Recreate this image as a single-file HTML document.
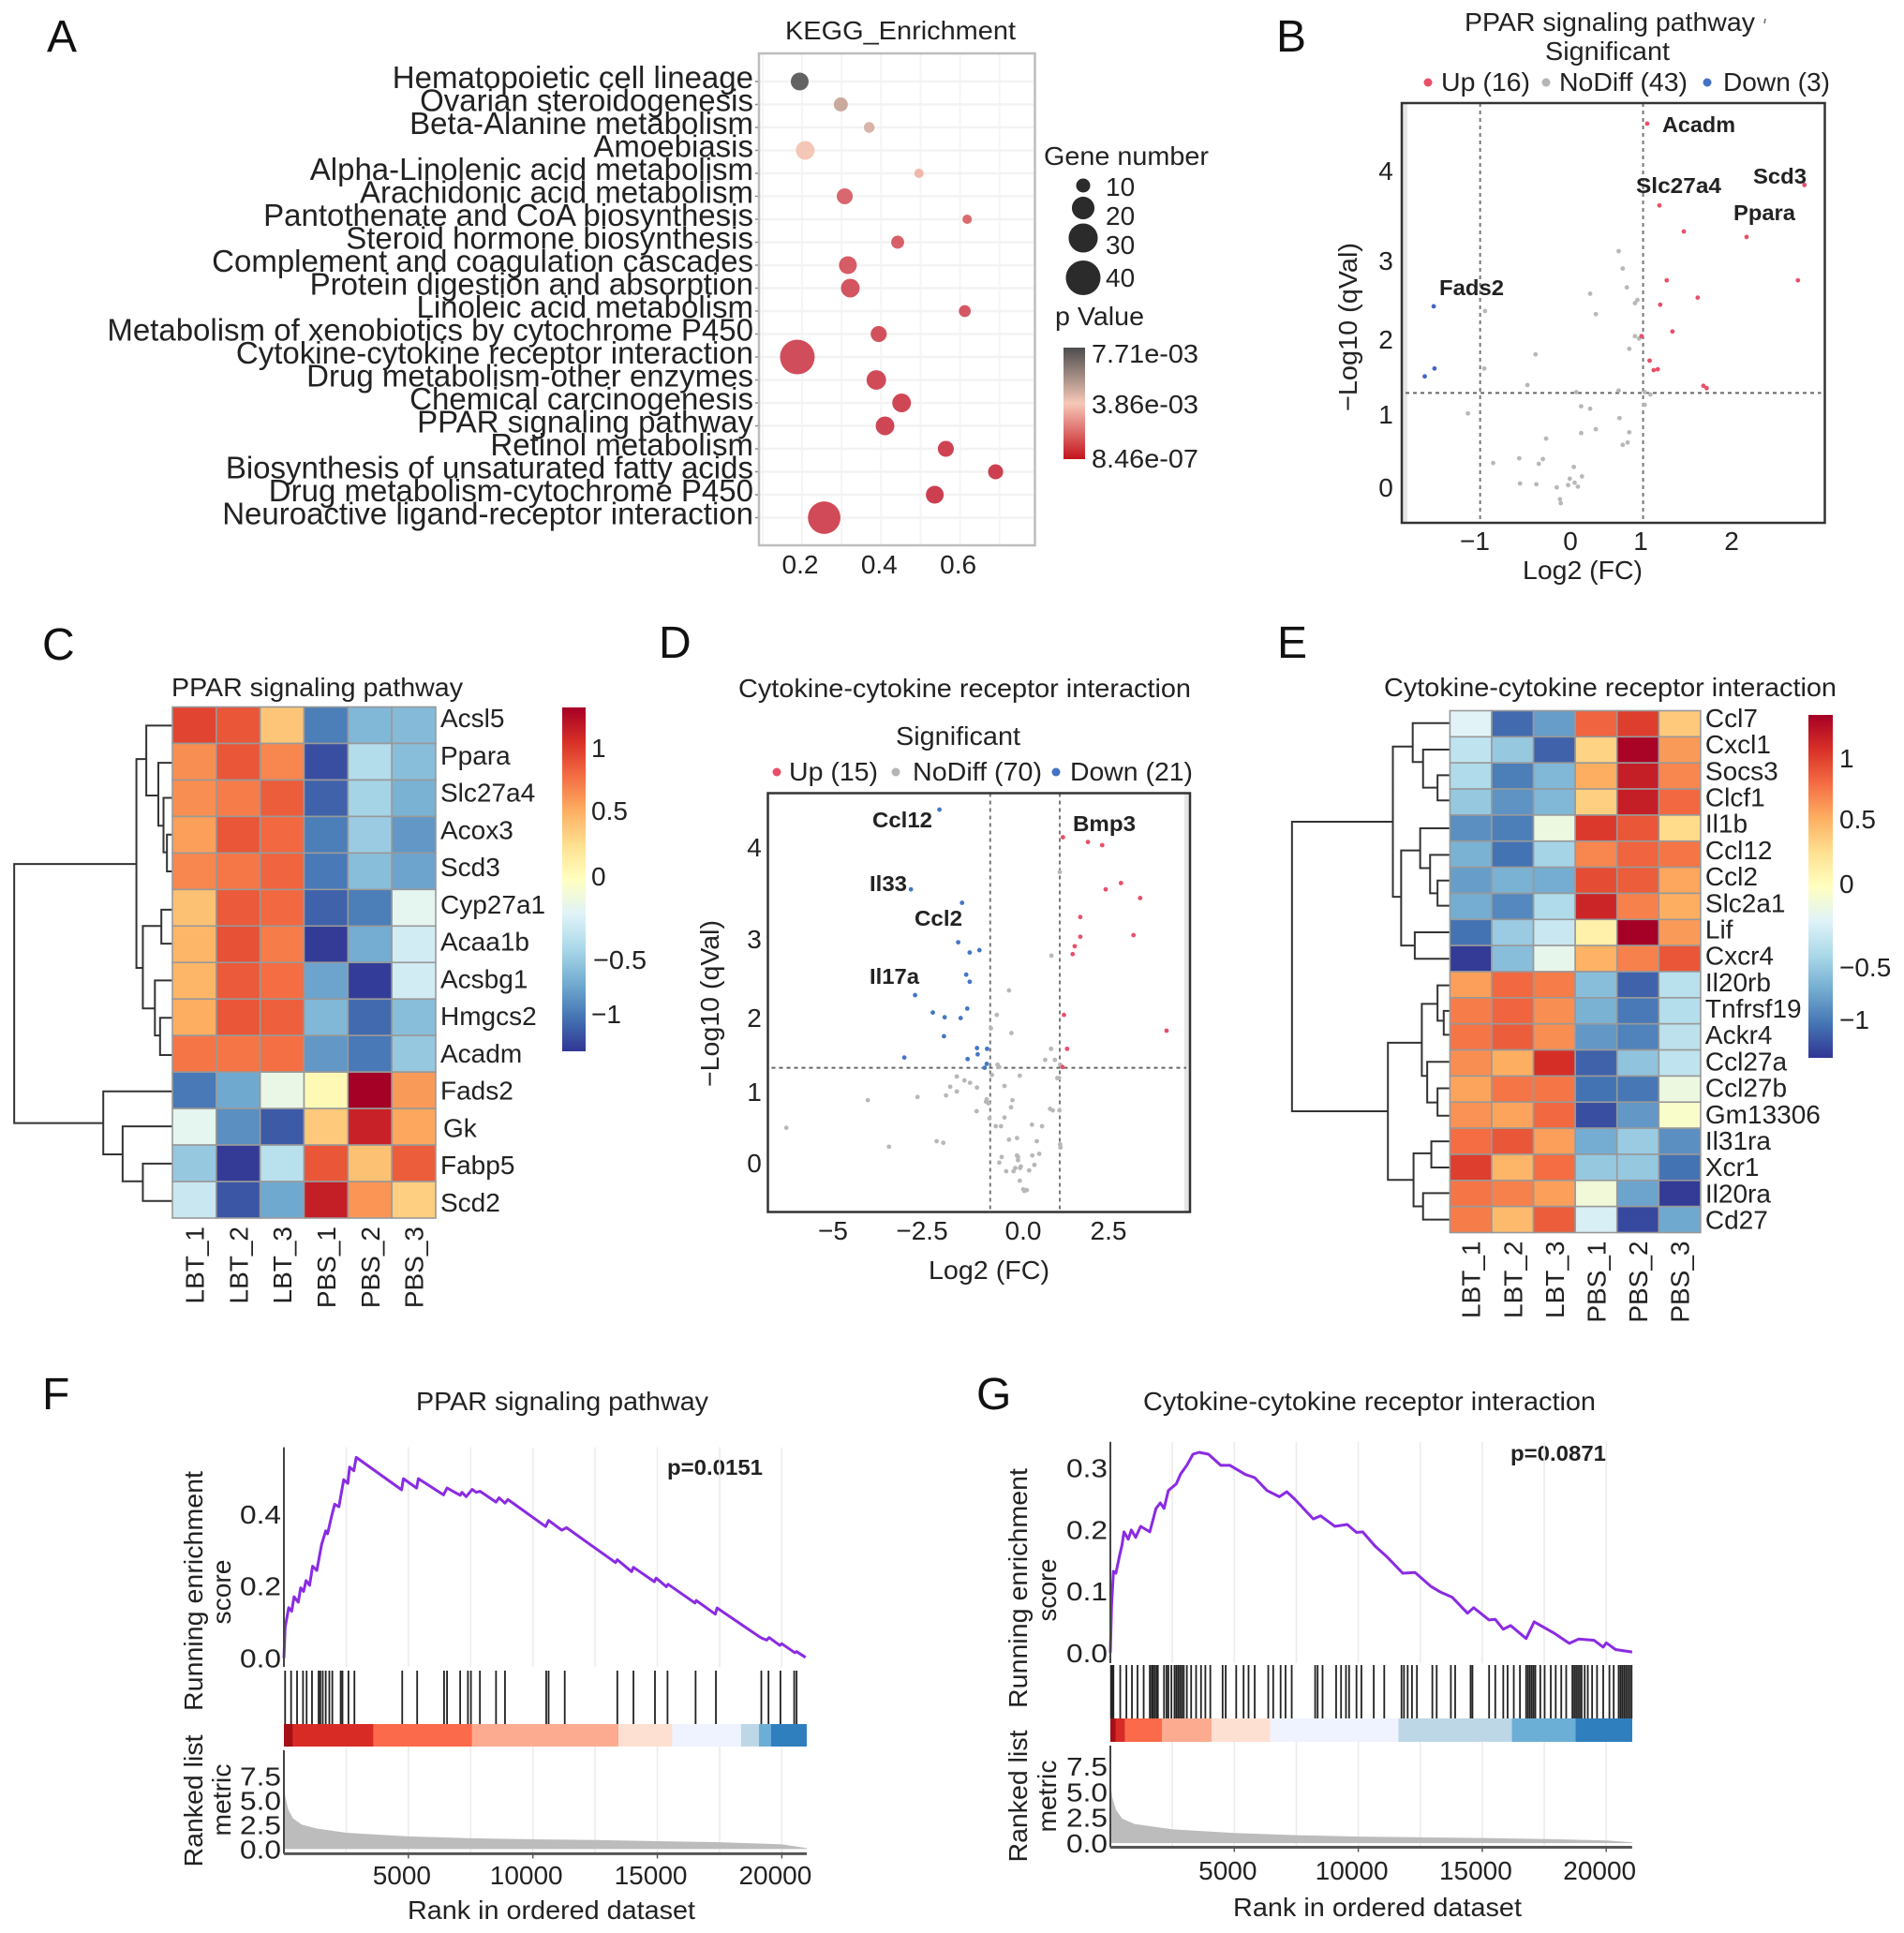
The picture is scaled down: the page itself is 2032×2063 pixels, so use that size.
<!DOCTYPE html>
<html lang="en">
<head>
<meta charset="utf-8">
<title>Pathway enrichment figure</title>
<style>
html,body{margin:0;padding:0;background:#fff;}
svg{display:block;font-family:"Liberation Sans",sans-serif;fill:#222;}
.l{font-size:28px;}
.b{font-size:23.5px;font-weight:bold;}
.p{font-size:48px;fill:#111;}
</style>
</head>
<body>
<svg id="figure" width="2032" height="2063" viewBox="0 0 2032 2063">
<defs>
<linearGradient id="heatGrad" x1="0" y1="0" x2="0" y2="1">
<stop offset="0" stop-color="#A50026"/><stop offset=".1" stop-color="#D73027"/><stop offset=".2" stop-color="#F46D43"/><stop offset=".3" stop-color="#FDAE61"/><stop offset=".4" stop-color="#FEE090"/><stop offset=".5" stop-color="#FFFFBF"/><stop offset=".6" stop-color="#E0F3F8"/><stop offset=".7" stop-color="#ABD9E9"/><stop offset=".8" stop-color="#74ADD1"/><stop offset=".9" stop-color="#4575B4"/><stop offset="1" stop-color="#313695"/>
</linearGradient>
<linearGradient id="pGrad" x1="0" y1="0" x2="0" y2="1">
<stop offset="0" stop-color="#4d4d4d"/><stop offset=".5" stop-color="#f6c8b8"/><stop offset="1" stop-color="#c4131c"/>
</linearGradient>
</defs>

<rect x="0" y="0" width="2032" height="2063" fill="#fff"/>

<text class="p" x="50" y="55">A</text>
<text class="p" x="1362" y="55">B</text>
<text class="p" x="45" y="704">C</text>
<text class="p" x="703" y="702">D</text>
<text class="p" x="1363" y="702">E</text>
<text class="p" x="45" y="1504">F</text>
<text class="p" x="1042" y="1504">G</text>

<!-- Panel A -->
<g id="panelA">
<text class="l" x="838" y="42" textLength="246" lengthAdjust="spacingAndGlyphs">KEGG_Enrichment</text>
<text class="l" x="1114" y="176" textLength="176" lengthAdjust="spacingAndGlyphs">Gene number</text>
<text class="l" x="1126" y="347" textLength="95" lengthAdjust="spacingAndGlyphs">p Value</text>
<rect x="1135" y="371" width="23" height="119" fill="url(#pGrad)"/>
<text class="l" x="1165" y="387" textLength="114" lengthAdjust="spacingAndGlyphs">7.71e-03</text>
<text class="l" x="1165" y="441" textLength="114" lengthAdjust="spacingAndGlyphs">3.86e-03</text>
<text class="l" x="1165" y="499" textLength="114" lengthAdjust="spacingAndGlyphs">8.46e-07</text>
</g>

<!-- Panel B -->
<g id="panelB">
<text class="l" x="1563" y="33" textLength="310" lengthAdjust="spacingAndGlyphs">PPAR signaling pathway</text>
<line x1="1884" y1="20" x2="1883" y2="25" stroke="#666" stroke-width="1.5"/>
<text class="l" x="1649" y="64" textLength="133" lengthAdjust="spacingAndGlyphs">Significant</text>
<circle cx="1524" cy="88" r="4.5" fill="#e8506a"/>
<text class="l" x="1538" y="97" textLength="95" lengthAdjust="spacingAndGlyphs">Up (16)</text>
<circle cx="1650" cy="88" r="4.5" fill="#b5b5b5"/>
<text class="l" x="1664" y="97" textLength="137" lengthAdjust="spacingAndGlyphs">NoDiff (43)</text>
<circle cx="1822" cy="88" r="4.5" fill="#4472c4"/>
<text class="l" x="1839" y="97" textLength="114" lengthAdjust="spacingAndGlyphs">Down (3)</text>
<rect x="1496" y="110" width="6" height="448" fill="#e6e6e6"/>
<g id="bMarks"></g>
<rect x="1496" y="110" width="451.5" height="448" fill="none" stroke="#333" stroke-width="2.5"/>
<text class="b" x="1774" y="141" textLength="78" lengthAdjust="spacingAndGlyphs">Acadm</text>
<text class="b" x="1746" y="206" textLength="91" lengthAdjust="spacingAndGlyphs">Slc27a4</text>
<text class="b" x="1871" y="196" textLength="57" lengthAdjust="spacingAndGlyphs">Scd3</text>
<text class="b" x="1850" y="235" textLength="66" lengthAdjust="spacingAndGlyphs">Ppara</text>
<text class="b" x="1536" y="315" textLength="69" lengthAdjust="spacingAndGlyphs">Fads2</text>
<text class="l" text-anchor="middle" x="1479" y="192">4</text>
<text class="l" text-anchor="middle" x="1479" y="288">3</text>
<text class="l" text-anchor="middle" x="1479" y="372">2</text>
<text class="l" text-anchor="middle" x="1479" y="452">1</text>
<text class="l" text-anchor="middle" x="1479" y="530">0</text>
<text class="l" text-anchor="middle" x="1574" y="587">−1</text>
<text class="l" text-anchor="middle" x="1676" y="587">0</text>
<text class="l" text-anchor="middle" x="1751" y="587">1</text>
<text class="l" text-anchor="middle" x="1848" y="587">2</text>
<text class="l" x="1625" y="618" textLength="128" lengthAdjust="spacingAndGlyphs">Log2 (FC)</text>
<text class="l" text-anchor="middle" transform="translate(1448,349) rotate(-90)" textLength="180" lengthAdjust="spacingAndGlyphs">−Log10 (qVal)</text>
</g>

<!-- Panel C -->
<g id="panelC">
<text class="l" x="183" y="743" textLength="311" lengthAdjust="spacingAndGlyphs">PPAR signaling pathway</text>
<path transform="translate(0,650) scale(.4592,.4974)" fill="none" stroke="#333" stroke-width="2" vector-effect="non-scaling-stroke" d="M317 547H33V1103H240M332 770H317V322H340M400 250H340V400H368M400 330H368V465H380M400 405H380V522H388M400 484H388V563H400M375 680H332V857H360M400 645H375V718H400M400 797H360V915H372M400 877H372V957H400M400 1035H240V1170H285M400 1110H285V1228H332M400 1190H332V1270H400"/>
<rect x="600" y="755" width="25" height="367" fill="url(#heatGrad)"/>
<text class="l" x="631" y="808">1</text>
<text class="l" x="631" y="875">0.5</text>
<text class="l" x="631" y="945">0</text>
<text class="l" x="633" y="1034" textLength="57" lengthAdjust="spacingAndGlyphs">−0.5</text>
<text class="l" x="631" y="1092">−1</text>
</g>

<!-- Panel D -->
<g id="panelD">
<text class="l" x="788" y="744" textLength="483" lengthAdjust="spacingAndGlyphs">Cytokine-cytokine receptor interaction</text>
<text class="l" x="956" y="795" textLength="133" lengthAdjust="spacingAndGlyphs">Significant</text>
<circle cx="829" cy="824" r="4.5" fill="#e8506a"/>
<text class="l" x="842" y="833" textLength="95" lengthAdjust="spacingAndGlyphs">Up (15)</text>
<circle cx="956" cy="824" r="4.5" fill="#b5b5b5"/>
<text class="l" x="974" y="833" textLength="138" lengthAdjust="spacingAndGlyphs">NoDiff (70)</text>
<circle cx="1127" cy="824" r="4.5" fill="#4472c4"/>
<text class="l" x="1142" y="833" textLength="131" lengthAdjust="spacingAndGlyphs">Down (21)</text>
<rect x="1264" y="846" width="6" height="448" fill="#e6e6e6"/>
<g id="dMarks"></g>
<rect x="819.5" y="846.5" width="450.5" height="447" fill="none" stroke="#333" stroke-width="2.5"/>
<text class="b" x="931" y="883" textLength="64" lengthAdjust="spacingAndGlyphs">Ccl12</text>
<text class="b" x="928" y="951" textLength="40" lengthAdjust="spacingAndGlyphs">Il33</text>
<text class="b" x="976" y="988" textLength="51" lengthAdjust="spacingAndGlyphs">Ccl2</text>
<text class="b" x="928" y="1050" textLength="53" lengthAdjust="spacingAndGlyphs">Il17a</text>
<text class="b" x="1145" y="887" textLength="67" lengthAdjust="spacingAndGlyphs">Bmp3</text>
<text class="l" text-anchor="middle" x="805" y="914">4</text>
<text class="l" text-anchor="middle" x="805" y="1012">3</text>
<text class="l" text-anchor="middle" x="805" y="1096">2</text>
<text class="l" text-anchor="middle" x="805" y="1175">1</text>
<text class="l" text-anchor="middle" x="805" y="1251">0</text>
<text class="l" text-anchor="middle" x="889" y="1323">−5</text>
<text class="l" text-anchor="middle" x="984" y="1323">−2.5</text>
<text class="l" text-anchor="middle" x="1092" y="1323">0.0</text>
<text class="l" text-anchor="middle" x="1183" y="1323">2.5</text>
<text class="l" x="991" y="1365" textLength="129" lengthAdjust="spacingAndGlyphs">Log2 (FC)</text>
<text class="l" text-anchor="middle" transform="translate(767,1071) rotate(-90)" textLength="178" lengthAdjust="spacingAndGlyphs">−Log10 (qVal)</text>
</g>

<!-- Panel E -->
<g id="panelE">
<text class="l" x="1477" y="743" textLength="483" lengthAdjust="spacingAndGlyphs">Cytokine-cytokine receptor interaction</text>
<path transform="translate(1340,700) scale(.4413,.4719)" fill="none" stroke="#333" stroke-width="2" vector-effect="non-scaling-stroke" d="M332 375H88V1030H320M380 205H332V545H352M470 152H380V240H405M470 212H405V298H440M470 270H440V327H470M398 440H352V655H385M470 390H398V480H422M470 450H422V537H440M470 508H440V565H470M470 625H385V685H470M402 875H320V1185H382M440 787H402V950H415M470 745H440V825H455M470 803H455V857H470M470 918H415V1010H440M470 978H440V1040H470M425 1125H382V1245H405M470 1098H425V1157H470M470 1215H405V1275H470"/>
<rect x="1930" y="763" width="26" height="366" fill="url(#heatGrad)"/>
<text class="l" x="1963" y="819">1</text>
<text class="l" x="1963" y="884">0.5</text>
<text class="l" x="1963" y="953">0</text>
<text class="l" x="1963" y="1042">−0.5</text>
<text class="l" x="1963" y="1098">−1</text>
</g>

<!-- Panel F -->
<g id="panelF">
<text class="l" x="444" y="1505" textLength="312" lengthAdjust="spacingAndGlyphs">PPAR signaling pathway</text>
<text class="b" x="712" y="1574" textLength="102" lengthAdjust="spacingAndGlyphs">p=0.0151</text>
<text class="l" text-anchor="middle" transform="translate(216,1698) rotate(-90)" textLength="256" lengthAdjust="spacingAndGlyphs">Running enrichment</text>
<text class="l" text-anchor="middle" transform="translate(246,1699) rotate(-90)" textLength="69" lengthAdjust="spacingAndGlyphs">score</text>
<text class="l" text-anchor="middle" transform="translate(216,1922) rotate(-90)" textLength="141" lengthAdjust="spacingAndGlyphs">Ranked list</text>
<text class="l" text-anchor="middle" transform="translate(246,1921) rotate(-90)" textLength="77" lengthAdjust="spacingAndGlyphs">metric</text>
<text class="l" x="435" y="2048" textLength="307" lengthAdjust="spacingAndGlyphs">Rank in ordered dataset</text>
</g>

<!-- Panel G -->
<g id="panelG">
<text class="l" x="1220" y="1505" textLength="483" lengthAdjust="spacingAndGlyphs">Cytokine-cytokine receptor interaction</text>
<text class="b" x="1612" y="1559" textLength="102" lengthAdjust="spacingAndGlyphs">p=0.0871</text>
<text class="l" text-anchor="middle" transform="translate(1096,1695) rotate(-90)" textLength="256" lengthAdjust="spacingAndGlyphs">Running enrichment</text>
<text class="l" text-anchor="middle" transform="translate(1127,1697) rotate(-90)" textLength="67" lengthAdjust="spacingAndGlyphs">score</text>
<text class="l" text-anchor="middle" transform="translate(1096,1917) rotate(-90)" textLength="141" lengthAdjust="spacingAndGlyphs">Ranked list</text>
<text class="l" text-anchor="middle" transform="translate(1127,1917) rotate(-90)" textLength="77" lengthAdjust="spacingAndGlyphs">metric</text>
<text class="l" x="1316" y="2045" textLength="308" lengthAdjust="spacingAndGlyphs">Rank in ordered dataset</text>
</g>
</svg>

<script>
/* ---------- Panel A data ---------- */
const keggTerms = ["Hematopoietic cell lineage","Ovarian steroidogenesis","Beta-Alanine metabolism","Amoebiasis","Alpha-Linolenic acid metabolism","Arachidonic acid metabolism","Pantothenate and CoA biosynthesis","Steroid hormone biosynthesis","Complement and coagulation cascades","Protein digestion and absorption","Linoleic acid metabolism","Metabolism of xenobiotics by cytochrome P450","Cytokine-cytokine receptor interaction","Drug metabolism-other enzymes","Chemical carcinogenesis","PPAR signaling pathway","Retinol metabolism","Biosynthesis of unsaturated fatty acids","Drug metabolism-cytochrome P450","Neuroactive ligand-receptor interaction"];
const keggRatio = [.194,.298,.37,.208,.496,.308,.618,.442,.316,.322,.612,.394,.188,.388,.452,.41,.564,.69,.536,.256];
const keggGenes = [14,10,7,15,6,12,6,9,14,15,8,12,40,16,15,15,12,11,14,36];
const keggP = [7.7e-3,5.0e-3,4.6e-3,3.9e-3,3.4e-3,1.2e-3,1.3e-3,1e-3,9e-4,7e-4,8e-4,6e-4,5e-4,4e-4,3e-4,3e-4,2e-4,1e-4,1e-4,4e-4];
const keggXTicks = [0.2,0.4,0.6];
const geneLegend = [10,20,30,40];

/* ---------- Panel B data ---------- */
const bUpX = [1.05,2.98,1.20,1.50,2.27,2.90,1.29,1.67,1.21,1.36,0.98,1.08,1.13,1.18,1.74,1.78];
const bUpY = [4.62,3.84,3.58,3.25,3.18,2.63,2.63,2.41,2.32,1.98,1.92,1.61,1.49,1.50,1.29,1.26];
const bDownX = [-1.57,-1.56,-1.68];
const bDownY = [2.30,1.51,1.41];
const bNoX = [.70,.75,.80,.35,.42,.90,.93,.90,.95,.83,-.94,-.32,-.95,-.42,.18,.70,1.02,1.09,-1.15,.24,.35,1.02,.71,.24,.42,.83,.81,.75,-.19,-.84,-.52,-.28,-.23,.15,.25,.10,-.51,-.31,-.06,.08,.16,.20,-.02,-.01];
const bNoY = [3.00,2.78,2.54,2.46,2.20,2.34,2.38,1.92,1.89,1.76,2.24,1.69,1.51,1.30,1.21,1.23,1.21,1.18,.94,1.03,1.00,1.05,.88,.69,.74,.70,.57,.54,.62,.31,.37,.30,.36,.26,.14,.11,.05,.04,0,.03,.06,.01,-.15,-.20];

/* ---------- Panel C data ---------- */
const cRows = ["Acsl5","Ppara","Slc27a4","Acox3","Scd3","Cyp27a1","Acaa1b","Acsbg1","Hmgcs2","Acadm","Fads2","Gk","Fabp5","Scd2"];
const sampleNames = ["LBT_1","LBT_2","LBT_3","PBS_1","PBS_2","PBS_3"];
const cValues = [
[.95,.88,.40,-1.0,-.72,-.70],
[.65,.88,.68,-1.2,-.48,-.68],
[.65,.72,.85,-1.12,-.55,-.75],
[.58,.88,.80,-1.0,-.6,-.88],
[.68,.74,.82,-1.02,-.68,-.82],
[.42,.86,.80,-1.12,-1.0,-.22],
[.48,.90,.72,-1.28,-.78,-.33],
[.48,.86,.78,-.82,-1.27,-.33],
[.52,.88,.84,-.72,-1.08,-.68],
[.75,.75,.77,-.88,-1.02,-.62],
[-1.02,-.8,-.18,.05,1.3,.6],
[-.22,-.92,-1.15,.38,1.12,.55],
[-.62,-1.28,-.45,.88,.42,.85],
[-.38,-1.17,-.8,1.14,.62,.35]];

/* ---------- Panel D data ---------- */
const dUpX = [1.09,1.81,2.22,2.76,2.32,3.31,1.59,1.59,3.12,1.43,1.37,1.12,4.07,1.21,1.08];
const dUpY = [4.14,4.08,4.04,3.56,3.48,3.37,3.13,2.88,2.90,2.76,2.66,1.89,1.69,1.46,1.23];
const dDownX = [-2.46,-3.28,-1.81,-1.92,-1.59,-1.31,-1.69,-1.59,-3.16,-1.66,-2.65,-2.31,-1.85,-2.33,-3.47,-1.38,-1.09,-1.36,-1.65,-1.10,-1.16];
const dDownY = [4.49,3.48,3.31,2.81,2.68,2.71,2.40,2.31,2.14,1.97,1.92,1.86,1.85,1.62,1.35,1.47,1.46,1.39,1.33,1.27,1.22];
const dNoX = [1.00,.76,-.46,-.81,-.98,-.39,.75,.58,.86,1.01,-.79,-.74,-1.96,-1.74,-1.58,-1.38,-.95,-.15,.93,.98,-2.15,-1.96,-2.27,-3.09,-4.52,-.59,-.36,-1.10,-1.05,-1.12,-.40,-1.39,.72,.80,.99,-.59,-1.02,-.84,-.69,.20,.49,-6.86,-3.91,-2.54,-2.35,-.46,-.23,.34,1.01,1.02,-.23,-.67,-.74,.21,.41,.27,.12,-.20,-.12,-.54,-.33,-.28,-.15,-.05,.05,-.02,-.14,-.20];
const dNoY = [3.70,2.64,2.20,1.89,1.72,1.66,1.46,1.32,1.32,1.26,1.26,1.23,1.11,1.06,1.03,.97,1.13,1.12,1.09,1.09,.98,.92,.87,.85,.81,.99,.81,.82,.77,.79,.72,.67,.70,.68,.68,.59,.58,.48,.48,.50,.48,.46,.22,.29,.27,.31,.33,.29,.25,.21,.11,.09,.02,.11,.13,-.01,-.08,.05,-.03,-.09,-.09,-.05,-.21,-.32,-.33,-.34,-.05,.09];

/* ---------- Panel E data ---------- */
const eRows = ["Ccl7","Cxcl1","Socs3","Clcf1","Il1b","Ccl12","Ccl2","Slc2a1","Lif","Cxcr4","Il20rb","Tnfrsf19","Ackr4","Ccl27a","Ccl27b","Gm13306","Il31ra","Xcr1","Il20ra","Cd27"];
const eValues = [
[-.25,-1.08,-.85,.82,.98,.38],
[-.42,-.62,-1.12,.33,1.28,.6],
[-.5,-1.0,-.72,.52,1.14,.68],
[-.62,-.9,-.72,.35,1.14,.8],
[-.92,-1.0,-.15,1.0,.88,.28],
[-.75,-1.05,-.55,.68,.82,.75],
[-.85,-.75,-.78,.92,.85,.55],
[-.78,-.95,-.5,1.1,.7,.52],
[-1.05,-.6,-.38,.12,1.3,.6],
[-1.28,-.68,-.2,.5,.7,.88],
[.58,.8,.72,-.68,-1.12,-.45],
[.72,.82,.65,-.75,-1.02,-.47],
[.75,.85,.65,-.88,-.98,-.43],
[.65,.52,1.05,-1.12,-.65,-.42],
[.56,.75,.75,-1.05,-1.03,-.15],
[.63,.56,.8,-1.2,-.88,-.05],
[.78,.88,.58,-.78,-.6,-.92],
[.98,.48,.78,-.62,-.62,-1.05],
[.75,.7,.58,-.12,-.82,-1.28],
[.72,.46,.85,-.3,-1.22,-.8]];

/* ---------- Panel F data ---------- */
const fRanks = [0,48,192,312,408,576,672,792,888,1032,1152,1320,1512,1680,1752,1920,2040,2208,2400,2568,2640,2808,2904,4728,4800,5328,5400,6408,6552,7080,7152,7320,7560,7728,7872,8520,8640,8880,9000,10512,10632,11160,11352,13320,13392,13968,14040,14880,14952,15360,15432,16512,16560,17328,17400,19080,19200,19392,19488,19920,19992,20520,20592,20952];
const fScores = [0,.085,.14,.13,.17,.155,.195,.185,.215,.202,.255,.243,.315,.353,.345,.395,.427,.42,.495,.485,.53,.52,.557,.467,.498,.472,.498,.453,.472,.452,.46,.448,.468,.46,.463,.433,.445,.43,.44,.365,.382,.355,.362,.265,.273,.24,.252,.212,.222,.198,.205,.153,.16,.122,.139,.06,.055,.05,.057,.035,.04,.015,.018,.002];
const fHits = [48,288,528,768,912,1128,1392,1464,1560,1680,1824,1944,2280,2352,2592,2832,4752,5352,6432,6552,7080,7392,7512,7872,8520,8880,10536,10632,11280,13392,14040,14904,15408,16536,17352,19176,19464,19944,20496,20592];
const fBinEnds = [360,3600,7560,13440,15600,18360,19080,19560,21000];
const fBinLevels = [8,7,6,5,4,3,2,1,0];
const fMetricRanks = [0,72,168,360,720,1320,2500,5000,7500,10000,12500,15000,17500,20000,21000];
const fMetricValues = [6.1,5.2,4.1,3.15,2.5,2.1,1.67,1.3,1.11,1.0,.93,.81,.7,.48,.1];
const fEsTicks = [0,0.2,0.4];

/* ---------- Panel G data ---------- */
const gRanks = [0,50,124,224,373,473,547,721,846,1020,1219,1592,1841,2015,2164,2338,2662,2836,3085,3334,3582,3956,4453,4826,5199,5448,5821,6319,6816,7115,7439,8185,8483,9056,9553,9927,10176,10673,11170,11792,12290,12912,13285,13783,14405,14654,15276,15525,15848,16147,16769,17092,17888,18510,18884,19506,19879,20004,20377,21048];
const gScores = [0,.076,.132,.129,.158,.175,.196,.184,.199,.187,.205,.196,.234,.243,.234,.263,.274,.29,.304,.322,.325,.322,.304,.304,.295,.289,.284,.263,.253,.261,.249,.217,.222,.205,.208,.195,.196,.173,.155,.129,.13,.108,.099,.09,.064,.073,.053,.054,.038,.044,.023,.05,.032,.015,.022,.02,.009,.016,.005,.001];
const gHits = [25,75,124,398,647,871,1095,1344,1592,1667,1717,1791,1866,1916,2165,2264,2339,2463,2587,2662,2737,2811,2886,2961,3085,3259,3458,3657,3832,4031,4528,4652,5076,5374,5573,5822,6369,6568,6867,7066,7315,8260,8360,8559,9106,9305,9504,9629,9927,10126,10624,11047,11743,11843,11992,12166,12365,12987,13162,13734,13908,14530,14605,15276,15525,15848,16023,16272,16520,16769,16844,16918,16993,17068,17142,17341,17516,17764,17963,18187,18386,18635,18710,18784,18859,18934,19008,19132,19257,19431,19630,19879,20128,20302,20501,20576,20650,20725,20799,20874,20949,21023];
const gBinEnds = [224,597,2090,4080,6444,11619,16197,18760,21050];
const gBinLevels = [8,7,6,5,4,3,2,1,0];
const gMetricRanks = [0,75,224,473,970,2513,5000,7514,10027,12539,15027,17540,20030,21050];
const gMetricValues = [5.9,4.5,3.27,2.39,1.87,1.34,.99,.77,.63,.56,.49,.39,.25,.07];
const gEsTicks = [0,0.1,0.2,0.3];

const metricTicks = [0,2.5,5,7.5];
const rankTicks = [5000,10000,15000,20000];

/* ---------- helpers ---------- */
const svgNS = document.getElementById('figure').namespaceURI;
function add(parent, tag, attrs, text) {
  const el = document.createElementNS(svgNS, tag);
  for (const k in attrs) el.setAttribute(k, attrs[k]);
  if (text !== undefined) el.textContent = text;
  parent.appendChild(el);
  return el;
}
function hex2rgb(h) { return [1,3,5].map(i => parseInt(h.substr(i,2),16)); }
function ramp(stops, t) {
  t = Math.max(0, Math.min(1, t)) * (stops.length - 1);
  const i = Math.min(Math.floor(t), stops.length - 2), f = t - i;
  const a = hex2rgb(stops[i]), b = hex2rgb(stops[i+1]);
  return 'rgb(' + a.map((v,k) => Math.round(v + (b[k]-v)*f)).join(',') + ')';
}
const heatStops = ['#313695','#4575B4','#74ADD1','#ABD9E9','#E0F3F8','#FFFFBF','#FEE090','#FDAE61','#F46D43','#D73027','#A50026'];
const heatColor = z => ramp(heatStops, (z + 1.3) / 2.6);

/* ---------- Panel A drawing ---------- */
(function () {
  const g = document.getElementById('panelA');
  const xA = v => 856 + (v - 0.2) * 421.5;
  const yA = i => 87 + i * 24.5;
  const rA = n => 3.48 * Math.sqrt(n) - 3.5;
  const pA = p => ramp(['#c42034','#f6c0ae','#4d4d4d'], p / 7.71e-3);
  const left = 810, right = 1104.5, top = 57, bottom = 582;
  for (let v = 0.1; v < 0.75; v += 0.1) {
    const grid = add(g, 'line', {x1:xA(v), x2:xA(v), y1:top, y2:bottom, stroke:'#f5f5f5', 'stroke-width':2});
    
    
  }
  keggTerms.forEach((term, i) => {
    const grid = add(g, 'line', {x1:left, x2:right, y1:yA(i), y2:yA(i), stroke:'#f3f3f3', 'stroke-width':2.5});
    
    
    const tick = add(g, 'line', {x1:left-4, x2:left, y1:yA(i), y2:yA(i), stroke:'#888', 'stroke-width':1.5});
    
    
    const lab = add(g, 'text', {x:804, y:yA(i)+7, 'text-anchor':'end', style:'font-size:33px'}, term);
    
    
  });
  const frame = add(g, 'rect', {x:left, y:top, width:right-left, height:bottom-top, fill:'none', stroke:'#bdbdbd', 'stroke-width':2.5});
  
  
  keggRatio.forEach((v, i) => {
    const dot = add(g, 'circle', {cx:xA(v), cy:yA(i), r:rA(keggGenes[i]), fill:pA(keggP[i]), 'fill-opacity':.88});
    
    
  });
  keggXTicks.forEach(v => {
    const tick = add(g, 'text', {x:xA(v)-2, y:612, 'text-anchor':'middle', class:'l'}, v.toFixed(1));
    
    
  });
  const legendY = [198, 222, 254, 296.5], legendLabelY = [209, 240, 271, 306];
  geneLegend.forEach((n, i) => {
    const dot = add(g, 'circle', {cx:1156, cy:legendY[i], r:rA(n), fill:'#2b2b2b'});
    
    
    const lab = add(g, 'text', {x:1180, y:legendLabelY[i], class:'l'}, String(n));
    
    
  });
})();

/* ---------- Volcano drawing ---------- */
function drawVolcano(g, xS, yS, box, thrY, thrX, r, series) {
  [-thrX, thrX].forEach(v => {
    const line = add(g, 'line', {x1:xS(v), x2:xS(v), y1:box.top, y2:box.bottom, stroke:'#777', 'stroke-width':2, 'stroke-dasharray':'4 4'});
    
    
  });
  const h = add(g, 'line', {x1:box.left+4, x2:box.right-4, y1:yS(thrY), y2:yS(thrY), stroke:'#666', 'stroke-width':2, 'stroke-dasharray':'4 4'});
  
  
  series.forEach(s => {
    s.xs.forEach((v, i) => {
      const dot = add(g, 'circle', {cx:xS(v), cy:yS(s.ys[i]), r:r, fill:s.color});
      
      
    });
  });
}
drawVolcano(document.getElementById('bMarks'),
  v => 1666.6 + 86.96 * v, v => 520.2 - 84.05 * v,
  {left:1496, right:1947.5, top:110, bottom:558}, 1.2, 1, 2.4, [
    {xs:bNoX, ys:bNoY, color:'#b8b8b8', name:'nodiff-gene-point'},
    {xs:bUpX, ys:bUpY, color:'#e8506a', name:'up-gene-point'},
    {xs:bDownX, ys:bDownY, color:'#4466c4', name:'down-gene-point'}
  ]);
drawVolcano(document.getElementById('dMarks'),
  v => 1093.9 + 37.12 * v, v => 1242.4 - 84.26 * v,
  {left:819.5, right:1270, top:846.5, bottom:1293.7}, 1.22, 1, 2.4, [
    {xs:dNoX, ys:dNoY, color:'#b8b8b8', name:'nodiff-gene-point'},
    {xs:dUpX, ys:dUpY, color:'#e8506a', name:'up-gene-point'},
    {xs:dDownX, ys:dDownY, color:'#4477c4', name:'down-gene-point'}
  ]);

/* ---------- Heatmap drawing ---------- */
function drawHeatmap(g, rows, values, geo) {
  const cw = geo.w / sampleNames.length, ch = geo.h / rows.length;
  values.forEach((row, r) => {
    row.forEach((z, c) => {
      const cell = add(g, 'rect', {x:geo.x + c*cw, y:geo.y + r*ch, width:cw, height:ch, fill:heatColor(z), stroke:'#999', 'stroke-width':1.6});
      
      
    });
    const isGk = rows[r] === 'Gk';
    const spread = geo.labelFirst + (geo.labelLast - geo.labelFirst) * r / (rows.length - 1);
    const lab = add(g, 'text', {x:geo.x + geo.w + (isGk ? 8 : 5), y:geo.y + (r+.5)*ch + spread, class:'l'}, rows[r]);
    
    
  });
  sampleNames.forEach((name, c) => {
    const cx = geo.x + (c+.5)*cw + 10, ty = geo.y + geo.h + 9;
    const lab = add(g, 'text', {transform:'translate(' + cx + ',' + ty + ') rotate(-90)', 'text-anchor':'end', class:'l'}, name);
    
    
  });
}
drawHeatmap(document.getElementById('panelC'), cRows, cValues, {x:184, y:754.5, w:281, h:545.5, labelFirst:2, labelLast:12.5});
drawHeatmap(document.getElementById('panelE'), eRows, eValues, {x:1547.4, y:758.5, w:267.5, h:557, labelFirst:3.5, labelLast:10});

/* ---------- GSEA drawing ---------- */
const binPalette = ['#2f7fbf','#6baed6','#bdd7e7','#eff3ff','#fde0d2','#fcab90','#fb6a4a','#d92b26','#a50f15'];
function drawGsea(g, c, d) {
  const xR = r => c.x0 + r * c.k;
  const yE = v => c.esZero - v * c.esUnit;
  const yM = v => c.metricZero - v * c.metricUnit;
  for (let r = 2500; r <= 20000; r += 2500) {
    const a = add(g, 'line', {x1:xR(r), x2:xR(r), y1:c.top, y2:c.topBottom, stroke:'#ececec', 'stroke-width':1.6});
    
    
    const b = add(g, 'line', {x1:xR(r), x2:xR(r), y1:c.stripBottom, y2:c.axisY, stroke:'#ececec', 'stroke-width':1.6});
    
    
  }
  let area = 'M' + xR(d.metricRanks[0]) + ' ' + yM(0);
  d.metricRanks.forEach((r, i) => { area += 'L' + xR(r) + ' ' + yM(d.metricValues[i]); });
  area += 'L' + xR(d.metricRanks[d.metricRanks.length-1]) + ' ' + yM(0) + 'Z';
  const areaEl = add(g, 'path', {d:area, fill:'#bcbcbc'});
  
  
  let prev = 0;
  d.binEnds.forEach((end, i) => {
    const bin = add(g, 'rect', {x:xR(prev), y:c.rugBottom, width:xR(end)-xR(prev), height:c.stripBottom-c.rugBottom, fill:binPalette[d.binLevels[i]]});
    
    
    prev = end;
  });
  d.hits.forEach(r => {
    const hit = add(g, 'line', {x1:xR(r), x2:xR(r), y1:c.rugTop, y2:c.rugBottom, stroke:'#222', 'stroke-width':1.8});
    
    
  });
  const pts = d.ranks.map((r, i) => xR(r).toFixed(1) + ',' + yE(d.scores[i]).toFixed(1)).join(' ');
  const curve = add(g, 'polyline', {points:pts, fill:'none', stroke:'#8a2be2', 'stroke-width':3, 'stroke-linejoin':'round'});
  
  
  const yAxis = add(g, 'line', {x1:c.x0, x2:c.x0, y1:c.top, y2:c.topBottom, stroke:'#444', 'stroke-width':2});
  
  
  const yAxis2 = add(g, 'line', {x1:c.x0, x2:c.x0, y1:c.stripBottom+4, y2:c.axisY, stroke:'#444', 'stroke-width':2});
  
  
  const xAxis = add(g, 'line', {x1:c.x0, x2:c.xEnd, y1:c.axisY, y2:c.axisY, stroke:'#555', 'stroke-width':3});
  
  
  d.esTicks.forEach(v => {
    const tl = add(g, 'text', {x:c.x0-3, y:yE(v)+10, 'text-anchor':'end', class:'l', textLength:44, lengthAdjust:'spacingAndGlyphs'}, v.toFixed(1));
    
    
  });
  metricTicks.forEach(v => {
    const tl = add(g, 'text', {x:c.x0-3, y:yM(v)+10, 'text-anchor':'end', class:'l', textLength:44, lengthAdjust:'spacingAndGlyphs'}, v.toFixed(1));
    
    
  });
  rankTicks.forEach(r => {
    const tk = add(g, 'line', {x1:xR(r), x2:xR(r), y1:c.axisY, y2:c.axisY+5, stroke:'#555', 'stroke-width':1.5});
    
    
    const tl = add(g, 'text', {x:xR(r)-7, y:c.labelY, 'text-anchor':'middle', class:'l'}, String(r));
    
    
  });
}
drawGsea(document.getElementById('panelF'),
  {x0:303, k:.02657, esZero:1769.6, esUnit:384.6, top:1544.6, topBottom:1779, rugTop:1783, rugBottom:1840, stripBottom:1864, metricZero:1973.4, metricUnit:10.4, axisY:1978.4, xEnd:861, labelY:2011},
  {ranks:fRanks, scores:fScores, hits:fHits, binEnds:fBinEnds, binLevels:fBinLevels, metricRanks:fMetricRanks, metricValues:fMetricValues, esTicks:fEsTicks});
drawGsea(document.getElementById('panelG'),
  {x0:1185, k:.02646, esZero:1763.8, esUnit:657.7, top:1538.8, topBottom:1775, rugTop:1777, rugBottom:1834, stripBottom:1859, metricZero:1967, metricUnit:10.92, axisY:1971.5, xEnd:1741.8, labelY:2006},
  {ranks:gRanks, scores:gScores, hits:gHits, binEnds:gBinEnds, binLevels:gBinLevels, metricRanks:gMetricRanks, metricValues:gMetricValues, esTicks:gEsTicks});
</script>
</body>
</html>
